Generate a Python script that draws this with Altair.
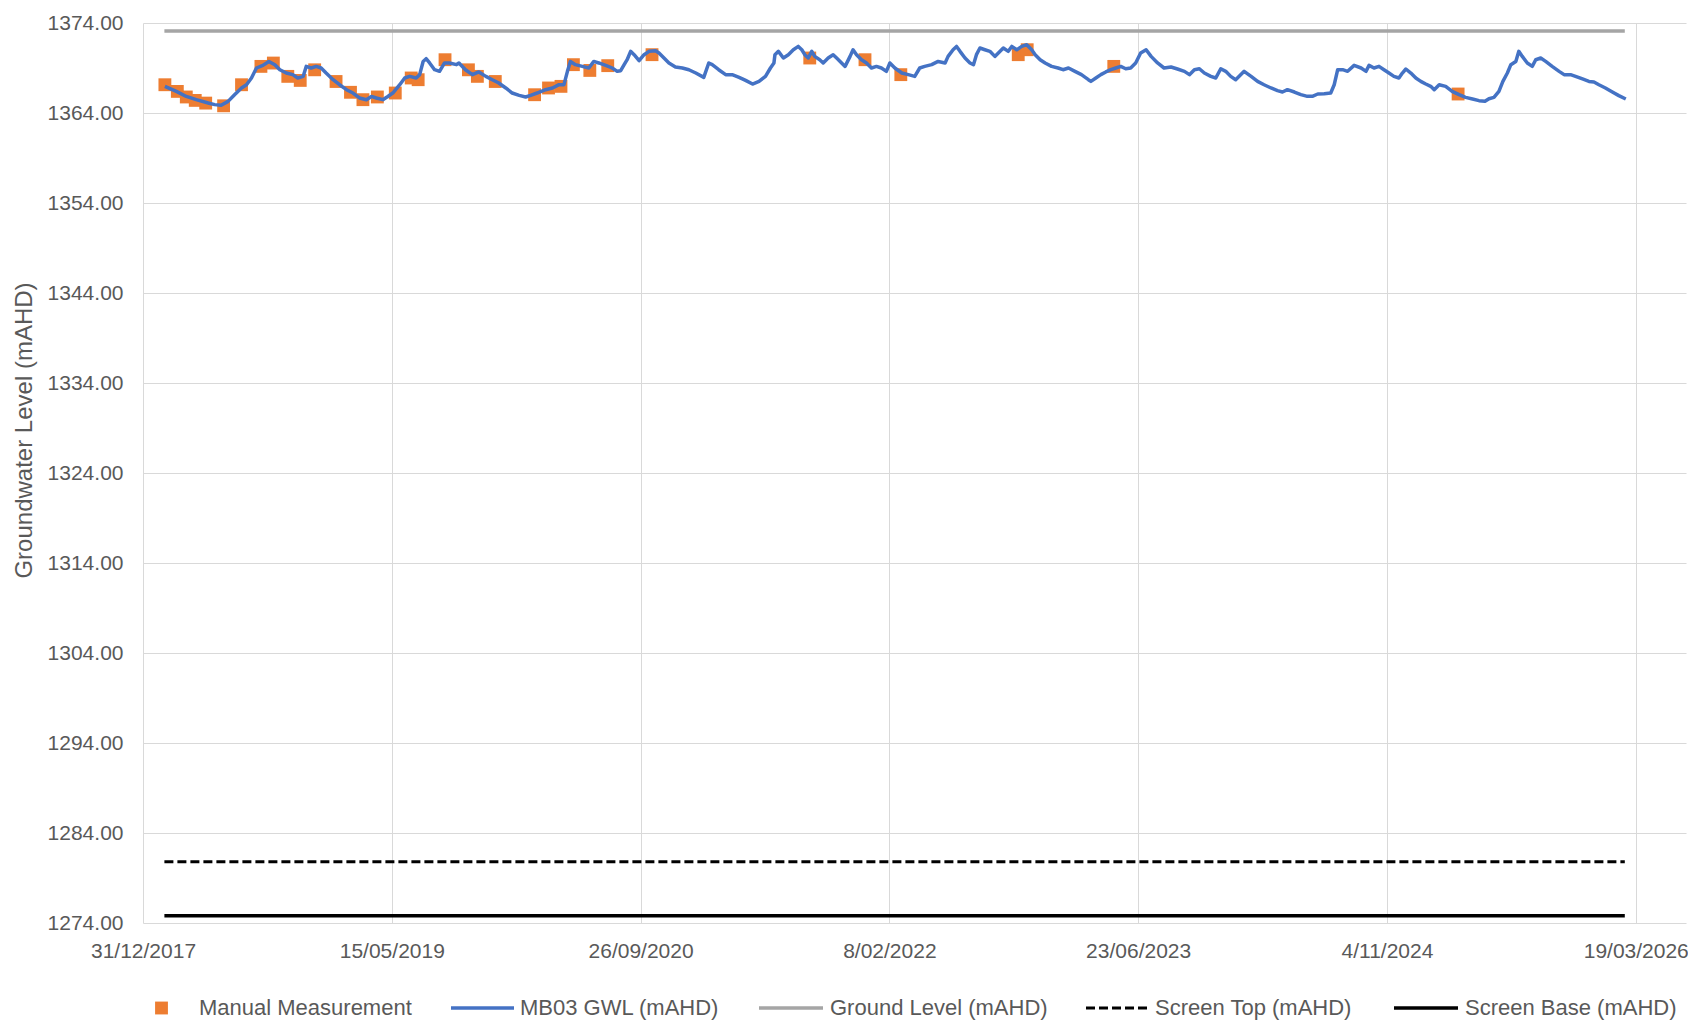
import altair as alt
import pandas as pd

# ---------------- data ----------------
# x positions are stored as days after 31/12/2017 (the first axis tick)
ORIGIN = "2017-12-31"

gwl_day = [
    44, 67, 87, 107, 131, 144, 157, 171, 184, 198, 208, 218, 228, 241, 253, 265, 275, 288, 301, 311,
    322, 328, 338, 348, 358, 368, 382, 395, 409, 422, 435, 449, 459, 469, 482, 492, 502, 516, 526, 536,
    549, 556, 563, 569, 576, 586, 596, 606, 616, 630,
    635, 648, 662, 675, 689, 702, 715, 729, 742, 756, 769, 779, 792, 809, 823, 836, 846, 853, 859, 869,
    883, 896, 906, 916, 930, 943, 953, 960, 967, 973, 980, 987, 997, 1007, 1017, 1030, 1037, 1047, 1057,
    1070, 1084, 1097, 1111, 1127, 1137, 1144, 1157, 1171, 1184, 1198, 1211, 1225, 1238, 1251, 1261, 1268,
    1270, 1277, 1287, 1297, 1307, 1317, 1324, 1330, 1337, 1344, 1350, 1360, 1367, 1377, 1387, 1394, 1404,
    1411, 1421, 1427, 1434, 1444, 1454, 1464, 1474, 1484, 1494, 1501, 1511, 1525, 1538, 1551, 1561, 1571,
    1585, 1598, 1612, 1618, 1628, 1635, 1642, 1652, 1662, 1669, 1675, 1682, 1692, 1702, 1712, 1719, 1729,
    1739, 1746, 1756, 1766, 1776, 1786, 1793, 1803, 1813, 1826, 1839, 1849, 1860, 1873, 1886, 1900,
    1905, 1915, 1925, 1935, 1945, 1955, 1965, 1975, 1985, 1995, 2005, 2016, 2026, 2039, 2052, 2066, 2079,
    2093, 2103, 2113, 2123, 2133, 2146, 2156, 2166, 2176, 2186, 2196, 2213, 2227, 2240, 2253, 2267, 2280,
    2290, 2300, 2314, 2327, 2340, 2350, 2361, 2374, 2387, 2394, 2401, 2411, 2421, 2434, 2448, 2458, 2464,
    2474,
    2484, 2494, 2504, 2514, 2524, 2531, 2538, 2548, 2558, 2568, 2578, 2588, 2595, 2605, 2618, 2631, 2645,
    2658, 2672, 2685, 2697, 2705, 2715, 2725, 2733, 2742, 2749, 2759, 2765, 2772, 2782, 2792, 2799, 2809,
    2819, 2832, 2846, 2856, 2869, 2879, 2893, 2906, 2916, 2926, 2939, 2953, 2966, 2980,
]
gwl_level = [
    1366.96, 1366.40, 1365.84, 1365.48, 1365.11, 1364.93, 1364.85, 1365.29, 1366.03, 1366.78, 1367.14,
    1367.89, 1369.00, 1369.29, 1369.73, 1369.37, 1368.81, 1368.44, 1368.26, 1367.89, 1368.07, 1369.18,
    1369.00, 1369.18, 1369.00, 1368.44, 1367.70, 1367.14, 1366.59, 1366.22, 1365.67, 1365.48, 1365.84,
    1365.67, 1365.48, 1365.84, 1366.22, 1367.14, 1367.89, 1368.07, 1367.89, 1368.26, 1369.73, 1370.03,
    1369.56, 1368.81, 1368.63, 1369.56, 1369.56, 1369.37,
    1369.56, 1368.81, 1368.26, 1368.56, 1368.07, 1367.70, 1367.33, 1366.78, 1366.22, 1365.96, 1365.78,
    1365.96, 1366.22, 1366.59, 1366.78, 1367.15, 1367.15, 1368.63, 1369.73, 1369.37, 1369.18, 1369.00,
    1369.73, 1369.56, 1369.29, 1369.00, 1368.63, 1368.70, 1369.37, 1369.92, 1370.85, 1370.48, 1369.81,
    1370.48, 1370.85, 1370.92, 1370.67, 1370.11, 1369.56, 1369.11, 1369.00, 1368.81, 1368.44, 1367.96,
    1369.56, 1369.37, 1368.81, 1368.26, 1368.26, 1367.96, 1367.63, 1367.22, 1367.51, 1368.07, 1369.00,
    1369.56,
    1370.48, 1370.85, 1370.11, 1370.48, 1371.03, 1371.40, 1371.03, 1370.48, 1370.11, 1370.85, 1370.29,
    1369.92, 1369.56, 1370.11, 1370.48, 1370.11, 1369.56, 1369.18, 1370.29, 1371.03, 1370.48, 1369.92,
    1369.56, 1369.00, 1369.18, 1369.00, 1368.63, 1369.56, 1369.00, 1368.44, 1368.26, 1368.07, 1369.00,
    1369.18, 1369.37, 1369.73, 1369.56, 1370.29, 1371.03, 1371.40, 1370.85, 1370.11, 1369.56, 1369.37,
    1370.48, 1371.22, 1371.03, 1370.85, 1370.29, 1370.67, 1371.22, 1370.85, 1371.40, 1371.03, 1371.40,
    1371.59, 1371.03, 1370.48, 1369.92, 1369.56, 1369.18, 1369.00, 1368.81, 1369.00, 1368.63, 1368.26,
    1367.70,
    1367.51, 1367.89, 1368.26, 1368.56, 1368.81, 1369.00, 1369.18, 1368.92, 1369.00, 1369.56, 1370.67,
    1371.03, 1370.29, 1369.56, 1369.00, 1369.11, 1368.89, 1368.63, 1368.26, 1368.81, 1368.92, 1368.44,
    1368.07, 1367.89, 1368.92, 1368.63, 1368.07, 1367.70, 1368.63, 1368.07, 1367.51, 1367.14, 1366.78,
    1366.48, 1366.33, 1366.59, 1366.33, 1366.04, 1365.85, 1365.85, 1366.11, 1366.15, 1366.22, 1367.14,
    1368.81, 1368.81, 1368.63, 1369.29, 1369.00, 1368.63, 1369.29, 1369.00,
    1369.18, 1368.81, 1368.44, 1368.07, 1367.89, 1368.44, 1368.89, 1368.44, 1367.89, 1367.51, 1367.22,
    1366.96, 1366.59, 1367.14, 1366.96, 1366.41, 1366.04, 1365.74, 1365.55, 1365.37, 1365.30, 1365.59,
    1365.74, 1366.41, 1367.51, 1368.44, 1369.37, 1369.73, 1370.85, 1370.29, 1369.56, 1369.18, 1369.92,
    1370.11, 1369.73, 1369.18, 1368.63, 1368.26, 1368.26, 1368.07, 1367.78, 1367.51, 1367.44, 1367.14,
    1366.78, 1366.33, 1365.93, 1365.55,
]

manual_day = [
    44, 69, 87, 105, 126, 162, 198, 237, 262, 291, 316, 345, 388, 417, 442, 471, 507, 539, 553, 607,
    654, 672, 708, 787, 815, 840, 865, 898, 934, 1023, 1340, 1451, 1523, 1759, 1777, 1951, 2643,
]
manual_level = [
    1367.14, 1366.40, 1365.78, 1365.40, 1365.10, 1364.80, 1367.14, 1369.18, 1369.55, 1368.07, 1367.62,
    1368.80, 1367.50, 1366.30, 1365.48, 1365.78, 1366.22, 1367.89, 1367.70, 1369.92, 1368.80, 1368.07,
    1367.50, 1366.03, 1366.78, 1366.96, 1369.37, 1368.73, 1369.26, 1370.48, 1370.11, 1369.92, 1368.26,
    1370.48, 1371.03, 1369.18, 1366.11,
]

level_names = ["Ground Level (mAHD)", "Screen Top (mAHD)", "Screen Base (mAHD)"]
level_values = [1373.1, 1280.8, 1274.8]
level_start_day = 43
level_end_day = 2978

x_tick_dates = [(2017, 12, 31), (2019, 5, 15), (2020, 9, 26), (2022, 2, 8),
                (2023, 6, 23), (2024, 11, 4), (2026, 3, 19)]
x_domain = [(2017, 12, 31), (2026, 6, 28)]
y_ticks = list(range(1274, 1375, 10))

legend_labels = ["Manual Measurement", "MB03 GWL (mAHD)", "Ground Level (mAHD)",
                 "Screen Top (mAHD)", "Screen Base (mAHD)"]

# ---------------- helpers ----------------
origin = pd.Timestamp(ORIGIN)


def to_date(days):
    return [(origin + pd.Timedelta(days=int(d))).strftime("%Y-%m-%d") for d in days]


def dt(t):
    return alt.DateTime(year=t[0], month=t[1], date=t[2], utc=True)


gwl_df = pd.DataFrame({"date": to_date(gwl_day), "level": gwl_level})
manual_df = pd.DataFrame({"date": to_date(manual_day), "level": manual_level})
levels_df = pd.DataFrame({
    "series": level_names,
    "level": level_values,
    "start": to_date([level_start_day] * 3),
    "end": to_date([level_end_day] * 3),
})

FONT = "Liberation Sans"
TXT = "#595959"
GRID = "#d9d9d9"

x_scale = alt.Scale(type="utc", domain=[dt(x_domain[0]), dt(x_domain[1])])
y_scale = alt.Scale(domain=[1274, 1374], nice=False, zero=False)

x_axis = alt.Axis(
    values=[dt(t) for t in x_tick_dates],
    labelExpr="utcFormat(datum.value, '%-d/%m/%Y')",
    title=None, grid=True, gridColor=GRID, gridWidth=1, domain=False, ticks=False,
    labelPadding=17, labelFontSize=21, labelFont=FONT, labelColor=TXT,
    labelOverlap=False, labelFlush=False, labelBound=False,
)
y_axis = alt.Axis(
    values=y_ticks, format=".2f", title="Groundwater Level (mAHD)",
    grid=True, gridColor=GRID, gridWidth=1, domain=False, ticks=False,
    labelPadding=20, labelFontSize=21, labelFont=FONT, labelColor=TXT,
    titleFont=FONT, titleFontSize=24, titleFontWeight="normal", titleColor=TXT,
    titleX=-119, titleY=407, titleAngle=270, titleAlign="center", titleBaseline="middle",
)


def xenc(field):
    return alt.X(f"{field}:T", scale=x_scale, axis=x_axis)


def yenc(field):
    return alt.Y(f"{field}:Q", scale=y_scale, axis=y_axis)


ground = alt.Chart(levels_df[levels_df.series == level_names[0]]).mark_rule(
    color="#A5A5A5", strokeWidth=3.5
).encode(x=xenc("start"), x2="end:T", y=yenc("level"))

screen_top = alt.Chart(levels_df[levels_df.series == level_names[1]]).mark_rule(
    color="#000000", strokeWidth=3, strokeDash=[9, 4]
).encode(x=xenc("start"), x2="end:T", y=yenc("level"))

screen_base = alt.Chart(levels_df[levels_df.series == level_names[2]]).mark_rule(
    color="#000000", strokeWidth=3.5
).encode(x=xenc("start"), x2="end:T", y=yenc("level"))

manual = alt.Chart(manual_df).mark_square(
    color="#ED7D31", size=165, opacity=1, filled=True
).encode(x=xenc("date"), y=yenc("level"))

gwl = alt.Chart(gwl_df).mark_line(
    color="#4472C4", strokeWidth=3.5, strokeJoin="round"
).encode(x=xenc("date"), y=yenc("level"))

# ---------------- hand-built legend (below the plot) ----------------
LY = 985
leg_layers = []
# symbol x-ranges (pixels relative to plot) and label start positions
sym_ranges = [(-13, 50), (308, 371), (616, 680), (943, 1006), (1251, 1315)]
label_x = [56, 377, 687, 1012, 1322]
one = pd.DataFrame({"k": [0]})
for i, lab in enumerate(legend_labels):
    a, b = sym_ranges[i]
    if i == 0:
        leg_layers.append(alt.Chart(one).mark_square(
            color="#ED7D31", size=165, opacity=1, filled=True
        ).encode(x=alt.value((a + b) / 2), y=alt.value(LY)))
    else:
        style = [
            None,
            dict(color="#4472C4", strokeWidth=3.5),
            dict(color="#A5A5A5", strokeWidth=3.5),
            dict(color="#000000", strokeWidth=3, strokeDash=[9, 4]),
            dict(color="#000000", strokeWidth=3.5),
        ][i]
        leg_layers.append(alt.Chart(one).mark_rule(**style).encode(
            x=alt.value(a), x2=alt.value(b), y=alt.value(LY)))
    leg_layers.append(alt.Chart(pd.DataFrame({"label": [lab]})).mark_text(
        align="left", baseline="middle", font=FONT, fontSize=22, color=TXT
    ).encode(x=alt.value(label_x[i]), y=alt.value(LY), text="label:N"))

# faint outer chart border at the far left of the picture
border = alt.Chart(one).mark_rule(color=GRID, strokeWidth=1.5).encode(
    x=alt.value(-141), y=alt.value(-23), y2=alt.value(999))

chart = alt.layer(
    ground, screen_top, screen_base, manual, gwl, border, *leg_layers
).properties(
    width=1543, height=900,
    autosize=alt.AutoSizeParams(type="none"),
    padding={"left": 135, "top": 15, "right": 2, "bottom": 99},
    background="white",
).configure_view(stroke=None)

chart.save("out.html", embed_options={"renderer": "svg", "actions": False})
